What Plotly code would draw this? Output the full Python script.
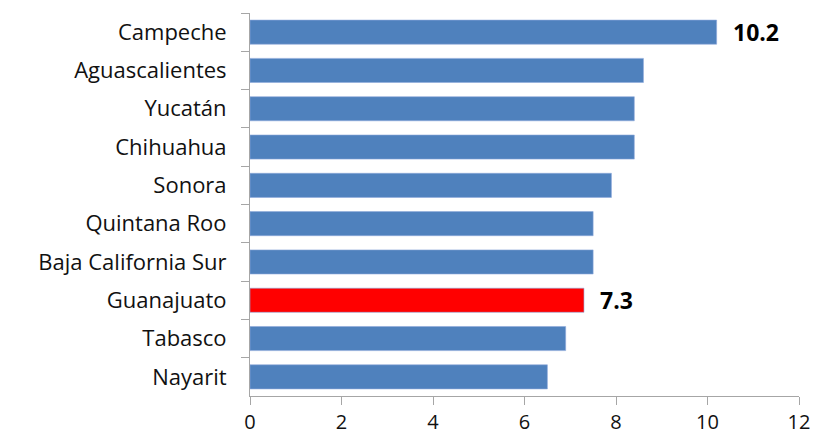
import plotly.graph_objects as go

states = ["Campeche", "Aguascalientes", "Yucatán", "Chihuahua", "Sonora",
          "Quintana Roo", "Baja California Sur", "Guanajuato", "Tabasco", "Nayarit"]
values = [10.2, 8.6, 8.4, 8.4, 7.9, 7.5, 7.5, 7.3, 6.9, 6.5]
highlight = "Guanajuato"
labeled = ["Campeche", "Guanajuato"]

colors = ["#FF0000" if s == highlight else "#4F81BD" for s in states]

fig = go.Figure(go.Bar(
    y=states, x=values, orientation="h",
    marker=dict(color=colors, line=dict(color="#8EAADB", width=0.6)),
    width=0.63,
))

for s, v in zip(states, values):
    if s in labeled:
        fig.add_annotation(x=v, y=s, text=f"<b>{v}</b>", showarrow=False,
                           xanchor="left", xshift=14,
                           font=dict(size=23, color="black", family="Open Sans"))

fig.update_layout(
    width=826, height=434,
    margin=dict(l=250, r=27, t=13, b=38),
    plot_bgcolor="white", paper_bgcolor="white",
    showlegend=False,
    font=dict(family="Open Sans", size=22, color="#111111"),
)
fig.update_yaxes(autorange="reversed", type="category", automargin=False,
                 showline=True, linecolor="#A6A6A6", linewidth=1,
                 ticks="outside", tickson="boundaries", ticklen=8, tickcolor="#A6A6A6",
                 showgrid=False, ticklabelstandoff=18)
fig.update_xaxes(range=[0, 12], dtick=2, automargin=False,
                 showline=True, linecolor="#A6A6A6", linewidth=1,
                 ticks="outside", ticklen=8, tickcolor="#A6A6A6",
                 tickfont=dict(size=20),
                 showgrid=False, zeroline=False, ticklabelstandoff=0)

fig.write_html("out.html")
